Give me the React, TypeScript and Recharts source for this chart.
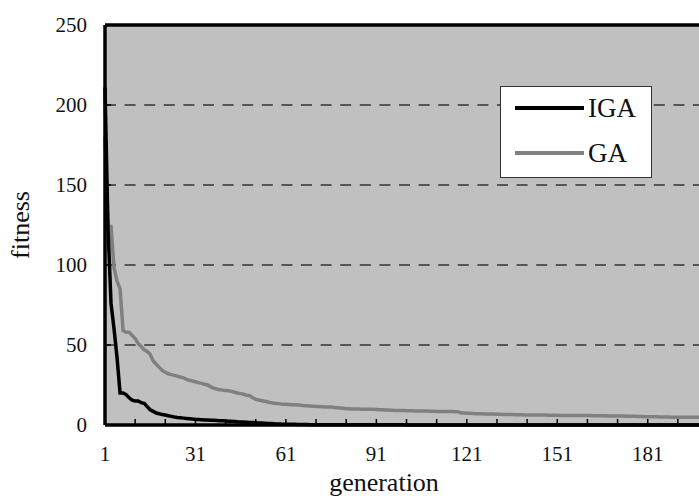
import { CartesianGrid, Legend, Line, LineChart, ReferenceLine, XAxis, YAxis } from "recharts"

const generations = Array.from({ length: 200 }, (_, i) => i + 1)

const igaFitness = [
  211, 123, 76, 60, 42, 20, 20, 19, 17, 15.5,
  15, 15, 14, 13.5, 11.5, 9.5, 8.5, 7.5, 7, 6.5,
  6.2, 5.8, 5.4, 5, 4.7, 4.5, 4.3, 4.1, 3.9, 3.7,
  3.5, 3.4, 3.3, 3.2, 3.1, 3.0, 2.9, 2.8, 2.7, 2.6,
  2.5, 2.4, 2.3, 2.2, 2.0, 1.9, 1.8, 1.7, 1.6, 1.5,
  1.4, 1.3, 1.2, 1.1, 1.0, 0.9, 0.8, 0.7, 0.6, 0.5,
  0.5, 0.4, 0.4, 0.4, 0.3, 0.3, 0.3, 0.3, 0.2, 0.2,
  0.2, 0.2, 0.2, 0.2, 0.2, 0.2, 0.2, 0.2, 0.2, 0.2,
  0.1, 0.1, 0.1, 0.1, 0.1, 0.1, 0.1, 0.1, 0.1, 0.1,
  0.1, 0.1, 0.1, 0.1, 0.1, 0.1, 0.1, 0.1, 0.1, 0.1,
  0, 0, 0, 0, 0, 0, 0, 0, 0, 0,
  0, 0, 0, 0, 0, 0, 0, 0, 0, 0,
  0, 0, 0, 0, 0, 0, 0, 0, 0, 0,
  0, 0, 0, 0, 0, 0, 0, 0, 0, 0,
  0, 0, 0, 0, 0, 0, 0, 0, 0, 0,
  0, 0, 0, 0, 0, 0, 0, 0, 0, 0,
  0, 0, 0, 0, 0, 0, 0, 0, 0, 0,
  0, 0, 0, 0, 0, 0, 0, 0, 0, 0,
  0, 0, 0, 0, 0, 0, 0, 0, 0, 0,
  0, 0, 0, 0, 0, 0, 0, 0, 0, 0,
]

const gaFitness = [
  180, 124, 124, 98, 90, 85, 59, 58, 58, 56,
  54, 51, 49, 47, 46, 44, 40, 38, 36, 34,
  33, 32, 31.5, 31, 30.5, 30, 29.5, 28.5, 28, 27.5,
  27, 26.5, 26, 25.5, 25, 24, 23, 22.5, 22, 21.8,
  21.6, 21.4, 21, 20.5, 20, 19.6, 19.2, 18.6, 18.3, 17,
  16, 15.6, 15.2, 14.8, 14.4, 14, 13.6, 13.4, 13.2, 13,
  12.9, 12.8, 12.7, 12.6, 12.5, 12.3, 12.1, 12, 11.8, 11.7,
  11.6, 11.5, 11.4, 11.3, 11.25, 11.2, 11, 10.8, 10.6, 10.4,
  10.2, 10.1, 10, 10, 10, 9.9, 9.9, 9.8, 9.8, 9.8,
  9.7, 9.6, 9.5, 9.4, 9.3, 9.2, 9.1, 9.1, 9, 9,
  8.9, 8.9, 8.9, 8.8, 8.8, 8.8, 8.7, 8.7, 8.6, 8.6,
  8.5, 8.5, 8.5, 8.4, 8.4, 8.4, 8.3, 8.3, 7.6, 7.5,
  7.4, 7.3, 7.2, 7.1, 7.0, 7.0, 6.9, 6.9, 6.8, 6.8,
  6.7, 6.7, 6.6, 6.6, 6.5, 6.5, 6.4, 6.4, 6.4, 6.3,
  6.3, 6.3, 6.3, 6.2, 6.2, 6.2, 6.2, 6.1, 6.1, 6.1,
  6.1, 6.0, 6.0, 6.0, 6.0, 6.0, 6.0, 5.9, 5.9, 5.9,
  5.9, 5.9, 5.8, 5.8, 5.8, 5.8, 5.8, 5.7, 5.7, 5.7,
  5.7, 5.6, 5.6, 5.5, 5.5, 5.4, 5.4, 5.3, 5.3, 5.2,
  5.2, 5.1, 5.1, 5.1, 5.0, 5.0, 5.0, 5.0, 4.9, 4.9,
  4.9, 4.9, 4.9, 4.8, 4.8, 4.8, 4.8, 4.8, 4.8, 4.8,
]

const yTicks = [0, 50, 100, 150, 200, 250]
const xTicks = [1, 11, 21, 31, 41, 51, 61, 71, 81, 91, 101, 111, 121, 131, 141, 151, 161, 171, 181, 191]
const xLabels = [1, 31, 61, 91, 121, 151, 181]
const seriesOrder = ["IGA", "GA"]

const data = generations.map((gen, i) => ({ gen, IGA: igaFitness[i], GA: gaFitness[i] }))

const FONT = '"Liberation Serif", "Times New Roman", serif'
const PLOT_LEFT = 105
const PLOT_TOP = 25
const PLOT_BOTTOM = 425
const CHART_W = 720
const CHART_H = 496

const XTick = (props: any) => {
  const { x, payload } = props
  const show = xLabels.includes(payload.value)
  return (
    <g>
      <line x1={x} x2={x} y1={PLOT_BOTTOM} y2={PLOT_BOTTOM - 6} stroke="#000" strokeWidth={1.5} />
      {show && (
        <text x={x} y={454} textAnchor="middle" dominantBaseline="central" fontSize={21} fontFamily={FONT} fill="#111">
          {payload.value}
        </text>
      )}
    </g>
  )
}

const YTick = (props: any) => {
  const { y, payload } = props
  return (
    <g>
      <line x1={PLOT_LEFT} x2={PLOT_LEFT + 6} y1={y} y2={y} stroke="#000" strokeWidth={1.5} />
      <text x={87} y={y} textAnchor="end" dominantBaseline="central" fontSize={21} fontFamily={FONT} fill="#111">
        {payload.value}
      </text>
    </g>
  )
}

const renderLegend = (props: any) => {
  const items = [...(props.payload || [])].sort(
    (a: any, b: any) => seriesOrder.indexOf(a.value) - seriesOrder.indexOf(b.value)
  )
  return (
    <div
      style={{
        boxSizing: "border-box",
        width: 152,
        height: 92,
        background: "#fff",
        border: "1px solid #333",
        position: "relative",
      }}
    >
      {items.map((entry: any, i: number) => (
        <div
          key={entry.value}
          style={{ position: "absolute", left: 14, top: 6 + i * 45, height: 30, display: "flex", alignItems: "center" }}
        >
          <span style={{ display: "inline-block", width: 69, height: 0, borderTop: `4px solid ${entry.color}`, marginRight: 4 }} />
          <span style={{ fontSize: 27, fontFamily: FONT, color: "#111", lineHeight: "30px" }}>{entry.value}</span>
        </div>
      ))}
    </div>
  )
}

export default function App() {
  return (
    <div style={{ position: "fixed", left: 0, top: 0, width: 699, height: 496, overflow: "hidden", background: "#fff" }}>
      <LineChart
        width={CHART_W}
        height={CHART_H}
        data={data}
        margin={{ top: PLOT_TOP, right: 15, bottom: 0, left: 0 }}
        style={{ fontFamily: FONT }}
      >
        <CartesianGrid
          vertical={false}
          fill="#c0c0c0"
          fillOpacity={1}
          stroke="#333"
          strokeWidth={1.5}
          strokeDasharray="11 8.6"
        />
        <XAxis
          dataKey="gen"
          type="number"
          domain={[1, 200]}
          ticks={xTicks}
          interval={0}
          height={CHART_H - PLOT_BOTTOM}
          tickLine={false}
          axisLine={{ stroke: "#000", strokeWidth: 3.5 }}
          tick={(p: any) => <XTick {...p} />}
          label={{
            value: "generation",
            content: () => (
              <text x={384} y={482} textAnchor="middle" dominantBaseline="central" fontSize={26} fontFamily={FONT} fill="#111">
                generation
              </text>
            ),
          }}
        />
        <YAxis
          type="number"
          domain={[0, 250]}
          ticks={yTicks}
          interval={0}
          width={PLOT_LEFT}
          tickLine={false}
          axisLine={{ stroke: "#000", strokeWidth: 3.5 }}
          tick={(p: any) => <YTick {...p} />}
          label={{
            value: "fitness",
            content: () => (
              <text
                x={20}
                y={225}
                textAnchor="middle"
                dominantBaseline="central"
                fontSize={26}
                fontFamily={FONT}
                fill="#111"
                transform="rotate(-90 20 225)"
              >
                fitness
              </text>
            ),
          }}
        />
        <ReferenceLine y={250} stroke="#000" strokeWidth={3.5} />
        <ReferenceLine x={200} stroke="#000" strokeWidth={3.5} />
        <Line dataKey="GA" stroke="#808080" strokeWidth={3.5} dot={false} type="linear" isAnimationActive={false} />
        <Line dataKey="IGA" stroke="#000" strokeWidth={3.5} dot={false} type="linear" isAnimationActive={false} />
        <Legend
          content={renderLegend}
          layout="horizontal"
          verticalAlign="middle"
          align="center"
          wrapperStyle={{ left: 500, top: 86, width: 152, height: 92 }}
        />
      </LineChart>
    </div>
  )
}
